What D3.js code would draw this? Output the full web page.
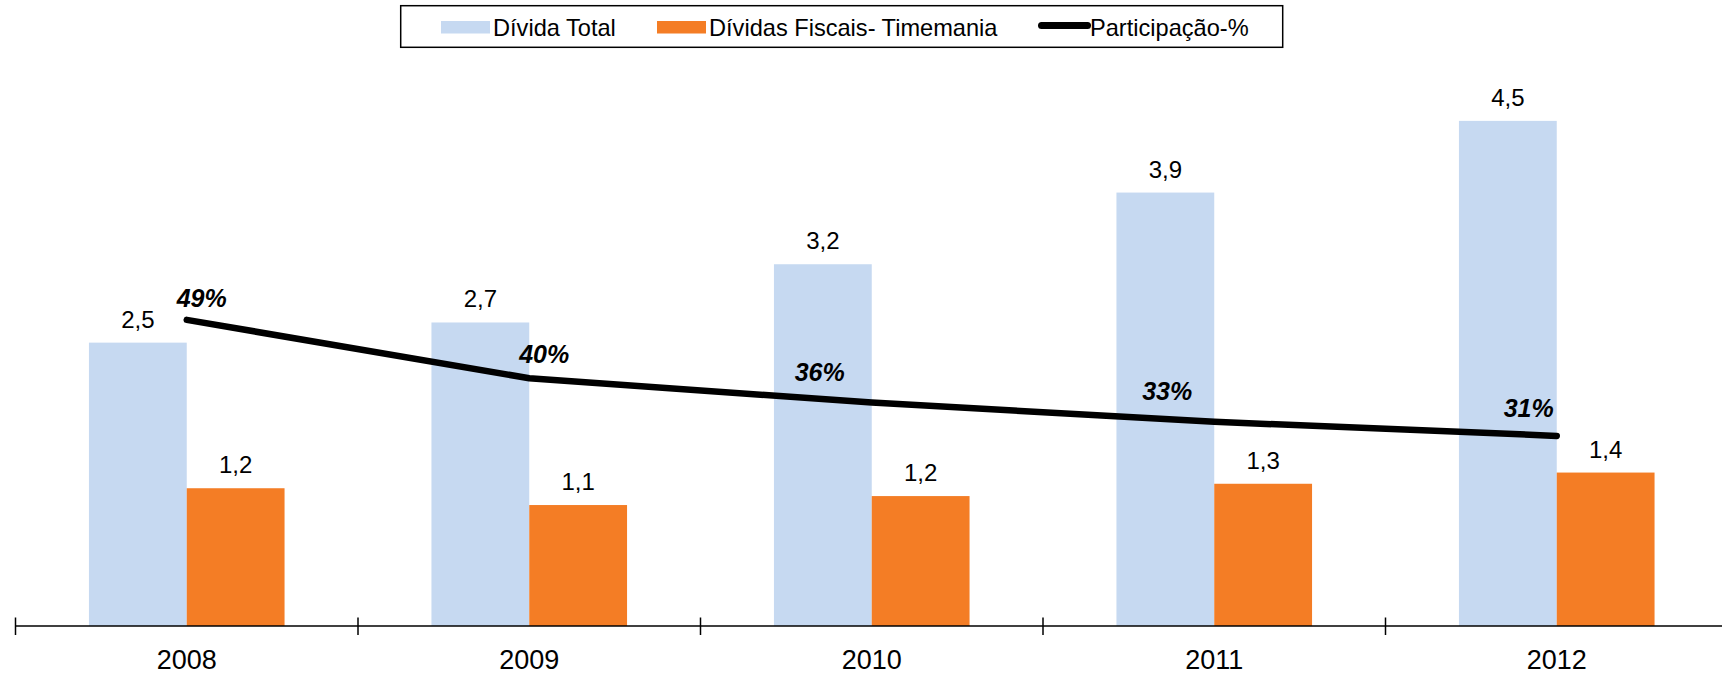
<!DOCTYPE html>
<html>
<head>
<meta charset="utf-8">
<script src="https://cdn.jsdelivr.net/npm/d3@7"></script>
<style>
  html, body { margin: 0; padding: 0; background: #fff; }
  svg { display: block; font-family: "Liberation Sans", Arial, sans-serif; }
</style>
</head>
<body>
<svg id="chart" width="1722" height="675"></svg>
<script>
// ---- data ----
const years = ["2008", "2009", "2010", "2011", "2012"];
const dividaTotal = [2.53, 2.71, 3.23, 3.87, 4.51];
const dividasFiscais = [1.23, 1.08, 1.16, 1.27, 1.37];
const participacao = [0.487, 0.396, 0.358, 0.328, 0.306];
const seriesNames = ["Dívida Total", "Dívidas Fiscais- Timemania", "Participação-%"];
const seriesColors = ["#C6D9F1", "#F47D25", "#000000"];

// ---- label placement (layout, not data) ----
const pctLabelDx = [15, 15, -52, -47, -28];
const pctLabelDy = [-13, -15, -22, -22, -19];

const svg = d3.select("#chart");
const axisY = 626;

const x0 = d3.scaleBand().domain(years).range([15.5, 1728]).padding(0);
const x1 = d3.scaleBand().domain([0, 1]).range([0, x0.bandwidth()])
  .paddingInner(0).paddingOuter(0.751);
const y = d3.scaleLinear().domain([0, 5]).range([axisY, 66]);
const y2 = d3.scaleLinear().domain([0, 0.88]).range([632, 68]);

const fmt1 = v => d3.format(".1f")(v).replace(".", ",");
const fmtPct = d3.format(".0%");

// bars
const barSeries = [dividaTotal, dividasFiscais];
barSeries.forEach((vals, si) => {
  const g = svg.append("g");
  g.selectAll("rect").data(vals).join("rect")
    .attr("x", (d, i) => x0(years[i]) + x1(si))
    .attr("y", d => y(d))
    .attr("width", x1.bandwidth())
    .attr("height", d => y(0) - y(d))
    .attr("fill", seriesColors[si]);
  g.selectAll("text").data(vals).join("text")
    .attr("x", (d, i) => x0(years[i]) + x1(si) + x1.bandwidth() / 2)
    .attr("y", d => y(d) - 15)
    .attr("text-anchor", "middle")
    .attr("font-size", 24)
    .attr("fill", "#000")
    .text(d => fmt1(d));
});

// axis
const axisG = svg.append("g");
axisG.append("line")
  .attr("x1", x0.range()[0]).attr("x2", 1722)
  .attr("y1", axisY).attr("y2", axisY)
  .attr("stroke", "#000").attr("stroke-width", 1.5);
const boundaries = years.map(d => x0(d)).concat([x0.range()[1]]);
axisG.selectAll("line.tick").data(boundaries).join("line")
  .attr("class", "tick")
  .attr("x1", d => d).attr("x2", d => d)
  .attr("y1", axisY - 8.5).attr("y2", axisY + 9)
  .attr("stroke", "#000").attr("stroke-width", 1.5);
axisG.selectAll("text").data(years).join("text")
  .attr("x", d => x0(d) + x0.bandwidth() / 2)
  .attr("y", 668.5)
  .attr("text-anchor", "middle")
  .attr("font-size", 27)
  .attr("fill", "#000")
  .text(d => d);

// line
const cx = i => x0(years[i]) + x0.bandwidth() / 2;
const line = d3.line().x((d, i) => cx(i)).y(d => y2(d));
svg.append("path")
  .datum(participacao)
  .attr("d", line)
  .attr("fill", "none")
  .attr("stroke", seriesColors[2])
  .attr("stroke-width", 6.5)
  .attr("stroke-linecap", "round")
  .attr("stroke-linejoin", "round");
svg.append("g").selectAll("text").data(participacao).join("text")
  .attr("x", (d, i) => cx(i) + pctLabelDx[i])
  .attr("y", (d, i) => y2(d) + pctLabelDy[i])
  .attr("text-anchor", "middle")
  .attr("font-size", 25)
  .attr("font-weight", "bold")
  .attr("font-style", "italic")
  .attr("fill", "#000")
  .text(d => fmtPct(d));

// legend
const leg = svg.append("g");
leg.append("rect")
  .attr("x", 400.7).attr("y", 5.7).attr("width", 882).attr("height", 41.6)
  .attr("fill", "#fff").attr("stroke", "#000").attr("stroke-width", 1.5);
const legX = [441, 657, 1038];
seriesNames.forEach((name, i) => {
  const gx = legX[i];
  if (i < 2) {
    leg.append("rect").attr("x", gx).attr("y", 21).attr("width", 49).attr("height", 12.5)
      .attr("fill", seriesColors[i]);
  } else {
    leg.append("line").attr("x1", gx + 3.5).attr("x2", gx + 49.5).attr("y1", 25.5).attr("y2", 25.5)
      .attr("stroke", seriesColors[i]).attr("stroke-width", 7).attr("stroke-linecap", "round");
  }
  leg.append("text")
    .attr("x", gx + 52).attr("y", 35.5)
    .attr("font-size", 23.6)
    .attr("fill", "#000")
    .text(name);
});
</script>
</body>
</html>
